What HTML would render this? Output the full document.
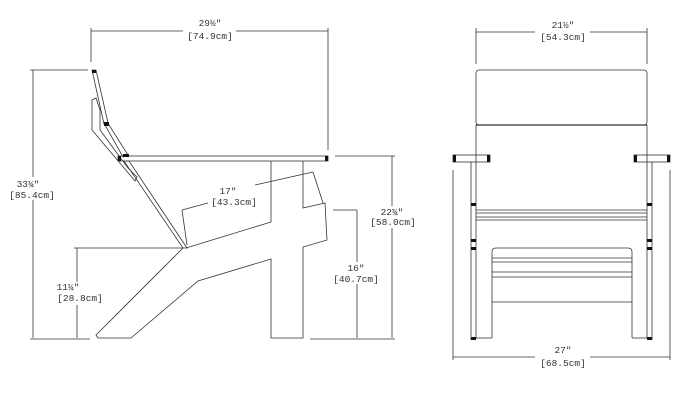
<!DOCTYPE html>
<html><head><style>
html,body{margin:0;padding:0;background:#fff;}
svg{display:block}
text{font-family:"Liberation Mono",monospace;font-size:9.5px;fill:#333;text-anchor:middle}
</style></head><body>
<svg width="690" height="400" viewBox="0 0 690 400" xmlns="http://www.w3.org/2000/svg">
<g stroke="#333" stroke-width="0.8" fill="none">
<!-- SIDE VIEW -->
<!-- top dim -->
<line x1="91" y1="28" x2="91" y2="62"/><line x1="328" y1="28" x2="328" y2="150"/>
<line x1="91" y1="31" x2="183" y2="31"/><line x1="236" y1="31" x2="328" y2="31"/>
<!-- 33 3/4 -->
<line x1="30" y1="70" x2="88" y2="70"/>
<line x1="33" y1="70" x2="33" y2="177"/><line x1="33" y1="200" x2="33" y2="338"/>
<!-- backrest -->
<polygon points="92,70 96,70 108,123 104,124"/>
<polygon points="105,125 109,125 128,155 123,157"/>
<polyline points="92,100 96,98 100,110 100,130 128,168 137,177 135,181 130,175 92,130 92,100"/>
<polygon points="124,161 129,161 187,248 183,248"/>
<!-- arm -->
<rect x="118" y="156" width="210" height="5"/>
<!-- leg / body -->
<polyline points="271,161 271,222 186,248"/>
<polyline points="303,161 303,208 325,203 327,240 303,247 303,338 271,338 271,259 198,281 131,338 98,338 96,335 183,248"/>
<!-- ground -->
<line x1="30" y1="339" x2="90" y2="339"/><line x1="310" y1="339" x2="395" y2="339"/>
<!-- 17 dim -->
<line x1="182" y1="210" x2="208" y2="203"/><line x1="255" y1="185" x2="313" y2="172"/>
<line x1="182" y1="210" x2="187" y2="245"/><line x1="313" y1="172" x2="323" y2="203"/>
<!-- 11 1/4 -->
<line x1="74" y1="248" x2="183" y2="248"/>
<line x1="77" y1="248" x2="77" y2="282"/><line x1="77" y1="305" x2="77" y2="338"/>
<!-- 16 -->
<line x1="333" y1="210" x2="357" y2="210"/>
<line x1="357" y1="210" x2="357" y2="262"/><line x1="357" y1="284" x2="357" y2="338"/>
<!-- 22 3/4 -->
<line x1="335" y1="156" x2="395" y2="156"/>
<line x1="392" y1="156" x2="392" y2="206"/><line x1="392" y1="228" x2="392" y2="338"/>

<!-- FRONT VIEW -->
<line x1="476" y1="28" x2="476" y2="64"/><line x1="647" y1="28" x2="647" y2="64"/>
<line x1="476" y1="32" x2="535" y2="32"/><line x1="590" y1="32" x2="647" y2="32"/>
<rect x="476" y="70" width="171" height="55" rx="3"/>
<line x1="476" y1="125" x2="647" y2="125" stroke-width="1.3"/>
<line x1="476" y1="125" x2="476" y2="338"/><line x1="647" y1="125" x2="647" y2="338"/>
<line x1="471" y1="162" x2="471" y2="340"/><line x1="652" y1="162" x2="652" y2="340"/>
<rect x="453" y="155" width="37" height="7"/><rect x="634" y="155" width="36" height="7"/>
<line x1="476" y1="210" x2="647" y2="210"/><line x1="476" y1="213" x2="647" y2="213"/>
<line x1="476" y1="217" x2="647" y2="217"/><line x1="476" y1="220" x2="647" y2="220"/>
<path d="M492,338 L492,252 Q492,248 496,248 L628,248 Q632,248 632,252 L632,338"/>
<line x1="492" y1="258" x2="632" y2="258"/><line x1="492" y1="262" x2="632" y2="262"/>
<line x1="492" y1="272" x2="632" y2="272"/><line x1="492" y1="277" x2="632" y2="277"/>
<line x1="492" y1="302" x2="632" y2="302"/>
<line x1="476" y1="338" x2="492" y2="338"/><line x1="632" y1="338" x2="647" y2="338"/>
<line x1="453" y1="170" x2="453" y2="360"/><line x1="670" y1="170" x2="670" y2="360"/>
<line x1="453" y1="357" x2="535" y2="357"/><line x1="590" y1="357" x2="670" y2="357"/>
</g>
<g fill="#111">
<rect x="118" y="156" width="3" height="5"/><rect x="325" y="156" width="3" height="5"/>
<rect x="92" y="70" width="4" height="3"/><rect x="104" y="122" width="5" height="4"/>
<rect x="123" y="154" width="6" height="3"/>
<rect x="453" y="155" width="3" height="7"/><rect x="487" y="155" width="3" height="7"/>
<rect x="634" y="155" width="3" height="7"/><rect x="667" y="155" width="3" height="7"/>
<rect x="471" y="203" width="5" height="3"/><rect x="647" y="203" width="5" height="3"/>
<rect x="471" y="239" width="5" height="3"/><rect x="647" y="239" width="5" height="3"/>
<rect x="471" y="247" width="5" height="3"/><rect x="647" y="247" width="5" height="3"/>
<rect x="471" y="337" width="5" height="3"/><rect x="647" y="337" width="5" height="3"/>
</g>
<text x="210" y="26">29½″</text><text x="210" y="39">[74.9cm]</text>
<text x="28" y="187">33¾″</text><text x="32" y="198">[85.4cm]</text>
<text x="228" y="194">17″</text><text x="234" y="205">[43.3cm]</text>
<text x="68" y="290">11¼″</text><text x="80" y="301">[28.8cm]</text>
<text x="356" y="271">16″</text><text x="356" y="282">[40.7cm]</text>
<text x="392" y="215">22¾″</text><text x="393" y="225">[58.0cm]</text>
<text x="563" y="28">21½″</text><text x="563" y="40">[54.3cm]</text>
<text x="563" y="353">27″</text><text x="563" y="366">[68.5cm]</text>
</svg>
</body></html>
